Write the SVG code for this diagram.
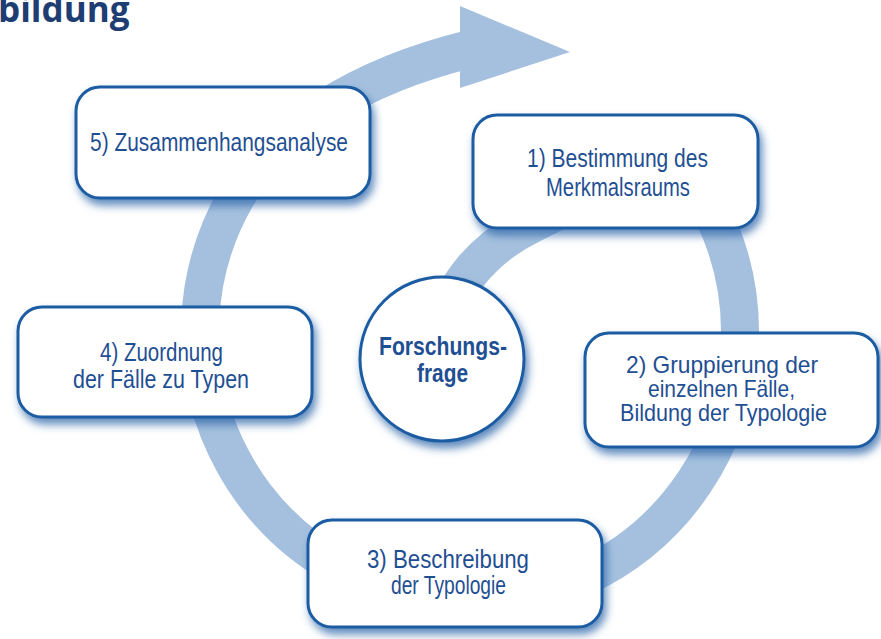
<svg xmlns="http://www.w3.org/2000/svg" width="881" height="639" viewBox="0 0 881 639">
  <defs>
    <filter id="sh" x="-10%" y="-15%" width="125%" height="145%">
      <feDropShadow dx="3" dy="6" stdDeviation="4" flood-color="#2f65a8" flood-opacity="0.75"/>
    </filter>
    <style>
      .box { fill: #ffffff; stroke: #1d5ca3; stroke-width: 3; filter: url(#sh); }
      .lbl { font-family: "Liberation Sans", Arial, sans-serif; font-size: 25px; fill: #1f4f93; text-anchor: middle; }
      .sm { font-size: 24px; }
      .bold { font-weight: bold; }
      .band { fill: none; stroke: #a5c0de; stroke-width: 38; }
      .head { fill: #a5c0de; }
      .title { font-family: "Open Sans", "Liberation Sans", sans-serif; font-weight: bold; font-size: 35px; fill: #1e3d73; }
    </style>
  </defs>
  <rect width="881" height="639" fill="#ffffff"/>

  <text class="title" x="-2" y="22">bildung</text>

  <g id="connectors">
    <path class="band" d="M 440,335 C 450,290 480,250 530,225 C 580,200 680,140 714.7,217.9 A 270 270 0 1 1 236.2,197 C 276,128 360,76 470,49"/>
    <polygon class="head" points="460,6 570,52 460,88"/>
  </g>

  <g id="node-1">
    <rect class="box" x="473" y="115" width="285" height="113" rx="24"/>
    <text class="lbl" x="617.5" y="167" textLength="181" lengthAdjust="spacingAndGlyphs">1) Bestimmung des</text>
    <text class="lbl" x="618" y="196" textLength="144" lengthAdjust="spacingAndGlyphs">Merkmalsraums</text>
  </g>

  <g id="node-2">
    <rect class="box" x="585" y="333" width="293" height="114" rx="24"/>
    <text class="lbl sm" x="722" y="373" textLength="192" lengthAdjust="spacingAndGlyphs">2) Gruppierung der</text>
    <text class="lbl sm" x="721.5" y="397" textLength="147" lengthAdjust="spacingAndGlyphs">einzelnen Fälle,</text>
    <text class="lbl sm" x="723.5" y="421" textLength="207" lengthAdjust="spacingAndGlyphs">Bildung der Typologie</text>
  </g>

  <g id="node-3">
    <rect class="box" x="308" y="520" width="294" height="107" rx="24"/>
    <text class="lbl" x="448" y="568" textLength="162" lengthAdjust="spacingAndGlyphs">3) Beschreibung</text>
    <text class="lbl" x="448.5" y="594" textLength="115" lengthAdjust="spacingAndGlyphs">der Typologie</text>
  </g>

  <g id="node-4">
    <rect class="box" x="18" y="307" width="294" height="110" rx="24"/>
    <text class="lbl" x="161.5" y="361" textLength="123" lengthAdjust="spacingAndGlyphs">4) Zuordnung</text>
    <text class="lbl" x="161" y="388" textLength="176" lengthAdjust="spacingAndGlyphs">der Fälle zu Typen</text>
  </g>

  <g id="node-5">
    <rect class="box" x="76" y="87" width="294" height="111" rx="24"/>
    <text class="lbl" x="219" y="151" textLength="258" lengthAdjust="spacingAndGlyphs">5) Zusammenhangsanalyse</text>
  </g>

  <g id="node-center">
    <circle class="box" cx="442" cy="359" r="82"/>
    <text class="lbl bold" x="443" y="355" textLength="128" lengthAdjust="spacingAndGlyphs">Forschungs-</text>
    <text class="lbl bold" x="442.5" y="382" textLength="51" lengthAdjust="spacingAndGlyphs">frage</text>
  </g>
</svg>
